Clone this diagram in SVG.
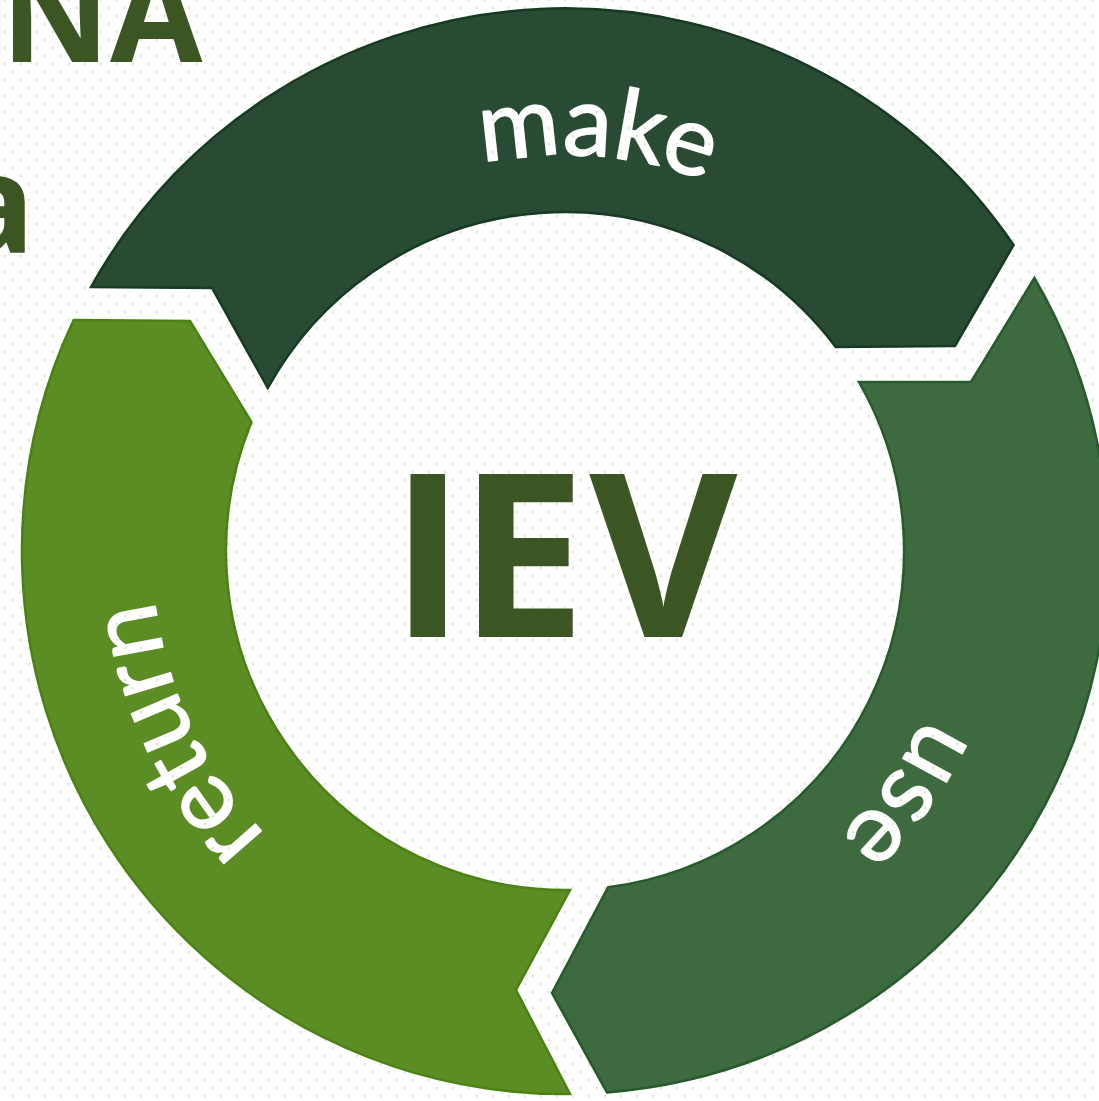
<svg xmlns="http://www.w3.org/2000/svg" width="1099" height="1101" viewBox="0 0 1099 1101">
  <defs>
    <pattern id="dots" width="16" height="16" patternUnits="userSpaceOnUse" x="5" y="0">
      <rect width="16" height="16" fill="#ffffff"/>
      <circle cx="0" cy="0" r="1.1" fill="#cfe3ba"/>
      <circle cx="16" cy="0" r="1.1" fill="#cfe3ba"/>
      <circle cx="0" cy="16" r="1.1" fill="#cfe3ba"/>
      <circle cx="16" cy="16" r="1.1" fill="#cfe3ba"/>
      <circle cx="8" cy="8" r="1.1" fill="#cfe3ba"/>
    </pattern>
    <path id="arc-make" d="M282.1,273.9 A396,396 0 0 1 887.0,320.5"/>
    <path id="arc-use" d="M948.2,451.2 A396,396 0 0 1 596.8,945.7"/>
    <path id="arc-return" d="M459.5,950.3 A413,413 0 0 1 190.1,377.7"/>
    <style>
      .seg { stroke-width: 2.5; stroke-linejoin: miter; }
      .lbl { font-family: Lato, "Open Sans", "Liberation Sans", sans-serif; font-size: 98px; font-weight: 400; fill: url(#dots); stroke: #ffffff; stroke-width: 1.6; stroke-linejoin: round; }
      .big { font-family: "Open Sans", "Liberation Sans", sans-serif; font-weight: 700; fill: #3b5623; }
    </style>
  </defs>

  <rect width="1099" height="1101" fill="url(#dots)"/>

  <g id="title">
    <text class="big" x="1" y="62" font-size="134">NA</text>
    <text class="big" x="35" y="253" font-size="138" text-anchor="end">a</text>
  </g>

  <g id="node-make">
    <path class="seg" fill="#294a33" stroke="#163a22" d="M91,287 A543,543 0 0 1 1013.6,245 L955,346 L835.7,347 A339,339 0 0 0 267.8,388 L212,288 Z"/>
    <text class="lbl"><textPath href="#arc-make" startOffset="50%" text-anchor="middle">make</textPath></text>
  </g>

  <g id="node-use">
    <path class="seg" fill="#3d6b3f" stroke="#275a2c" d="M1034.4,278 A543,543 0 0 1 607,1092.4 L552,993 L608,887.3 A339,339 0 0 0 858.9,382 L971,382 Z"/>
    <text class="lbl"><textPath href="#arc-use" startOffset="50%" text-anchor="middle">use</textPath></text>
  </g>

  <g id="node-return">
    <path class="seg" fill="#5c8c24" stroke="#4a8214" d="M570,1094 A543,543 0 0 1 73.6,320 L190,321 L251.5,422 A339,339 0 0 0 570,890 L516,990 Z"/>
    <text class="lbl" font-size="97"><textPath href="#arc-return" startOffset="50%" text-anchor="middle">return</textPath></text>
  </g>

  <g id="node-center">
    <text class="big" x="390" y="637" font-size="228" dx="0 -7 3">IEV</text>
  </g>
</svg>
